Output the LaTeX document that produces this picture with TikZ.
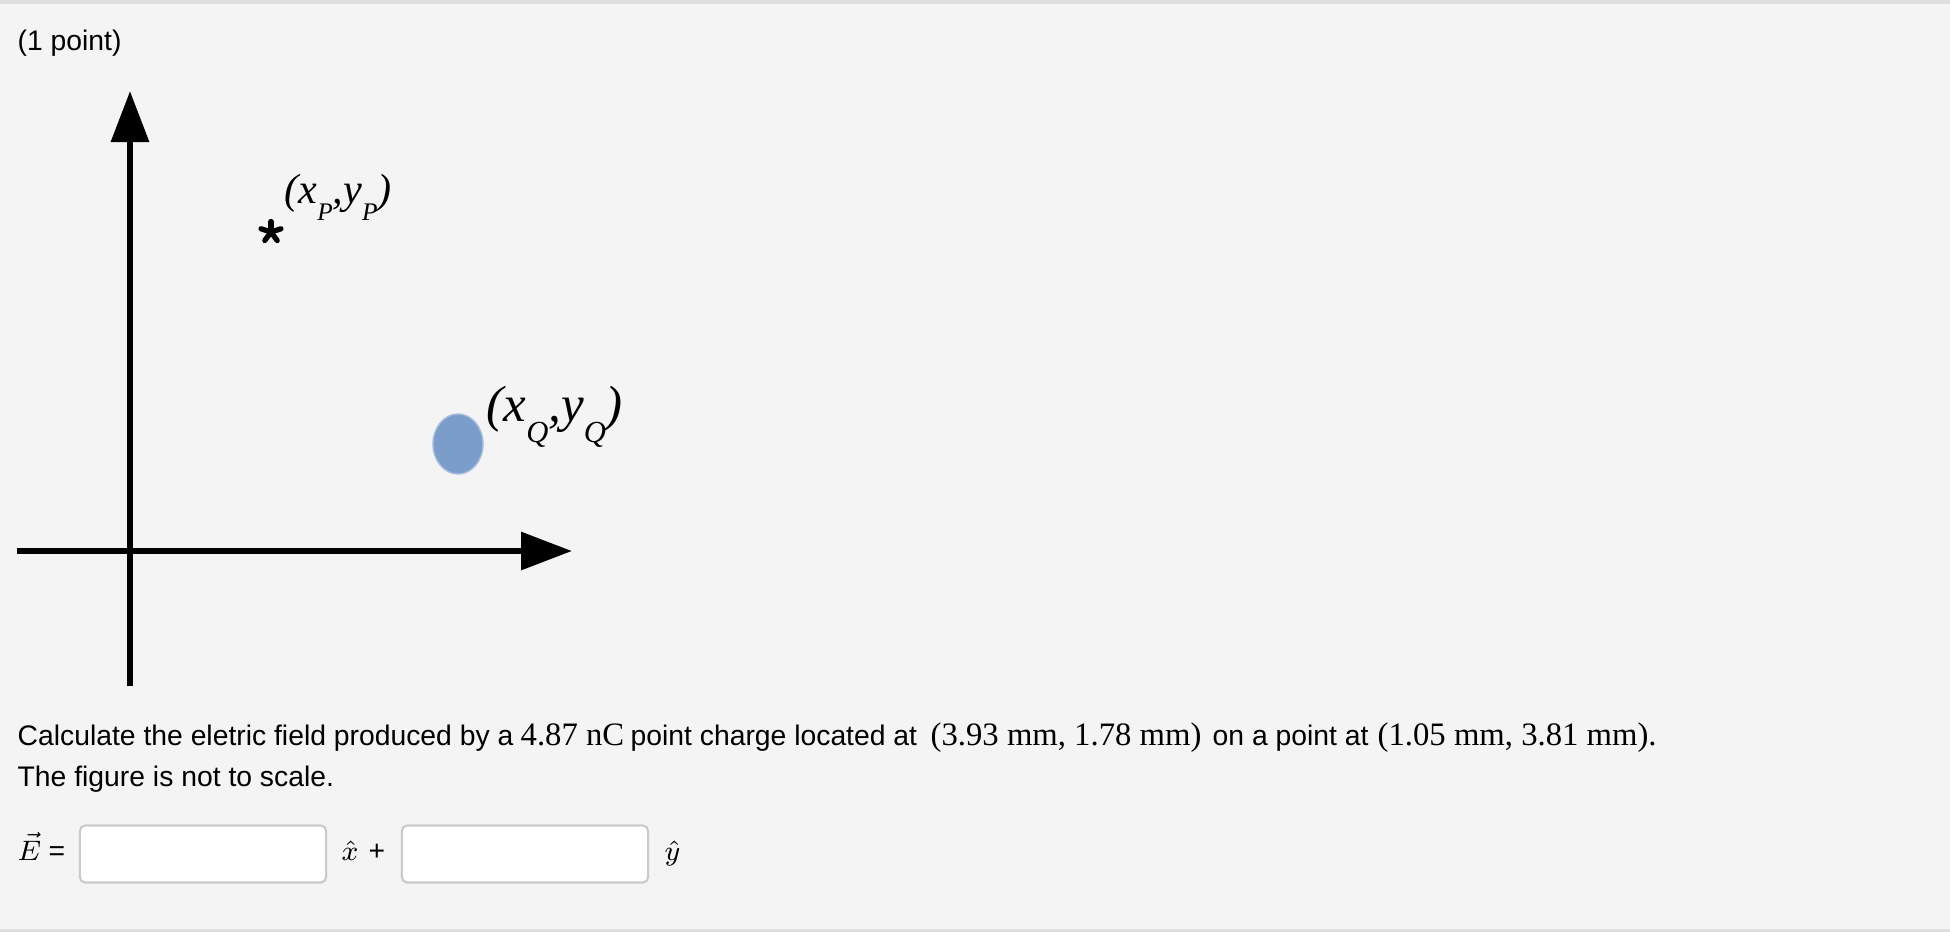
\documentclass[tikz,border=0pt]{standalone}
\usepackage{graphicx}
\usepackage{fontspec}
\setmainfont{Liberation Sans}
\newfontfamily\timesfont{Liberation Serif}
\usepackage{tikz}
\usetikzlibrary{arrows.meta,positioning}

\definecolor{pagebg}{HTML}{F4F4F4}
\definecolor{rulegray}{HTML}{DFDFDF}
\definecolor{boxgray}{HTML}{C9C9C9}
\definecolor{chargeblue}{HTML}{7B9DCA}
\definecolor{chargeedge}{HTML}{A3BBDD}
\newcommand{\lowsub}[1]{\raisebox{-0.42em}{\scalebox{0.6}{#1}}}

\begin{document}
\begin{tikzpicture}[x=0.01cm,y=-0.01cm,
    axis/.style={line width=1.85pt,-{Triangle[length=14.5pt,width=10.5pt]}},
    txt/.style={anchor=base west,inner sep=0pt,font=\fontsize{8.05}{9.7}\selectfont},
    num/.style={anchor=base west,inner sep=0pt,font=\fontsize{9.3}{10}\selectfont\timesfont},
    coordlabel/.style={anchor=base west,inner sep=0pt,font=\timesfont\itshape},
    answer/.style={draw=boxgray,line width=0.6pt,fill=white,rounded corners=1.5pt,
      minimum width=2.46cm,minimum height=0.57cm,inner sep=0pt}]
  \fill[pagebg] (0,0) rectangle (1950,932);
  \useasboundingbox (0,0) rectangle (1950,932);
  \fill[rulegray] (0,0) rectangle (1950,4);
  \fill[rulegray] (0,929) rectangle (1950,932);

  \node[txt] (points) at (17,50) {(1 point)};

  \coordinate (ybot) at (130,686);
  \coordinate (ytop) at (130,91);
  \coordinate (xleft) at (17,551);
  \coordinate (xright) at (572,551);
  \draw[axis] (ybot) -- (ytop);
  \draw[axis] (xleft) -- (xright);

  \coordinate (P) at (271,232);
  \foreach \a in {270,342,54,126,198}
    \draw[line width=1.5pt,line cap=round] (P) -- ++(\a:10.5);
  \node[coordlabel,font=\fontsize{12}{12}\selectfont\timesfont\itshape] (plabel) at (284,203) {(x\lowsub{P},y\lowsub{P})};

  \coordinate (Q) at (458,444);
  \filldraw[fill=chargeblue,draw=chargeedge,line width=0.4pt] (Q) ellipse [x radius=25,y radius=30];
  \node[coordlabel,font=\fontsize{14.5}{14.5}\selectfont\timesfont\itshape] (qlabel) at (486,421) {(x\lowsub{Q},y\lowsub{Q})};

  \node[txt] (t1) at (17,745) {Calculate the eletric field produced by a};
  \node[num] (m1) at (520,745) {4.87 nC};
  \node[txt] (t2) at (630,745) {point charge located at};
  \node[num] (m2) at (930,745) {(3.93 mm, 1.78 mm)};
  \node[txt] (t3) at (1212,745) {on a point at};
  \node[num] (m3) at (1377,745) {(1.05 mm, 3.81 mm).};
  \node[txt] (t4) at (17,786) {The figure is not to scale.};

  \node[txt,font=\fontsize{8.5}{9}\selectfont] (evec) at (17,860) {$\vec{E}$};
  \node[txt] (eq) at (48,860) {=};
  \node[answer] (xbox) at (203,854) {};
  \node[txt,font=\fontsize{8.5}{9}\selectfont] (xhat) at (341,860) {$\hat{x}$};
  \node[txt] (plus) at (368,860) {+};
  \node[answer] (ybox) at (525,854) {};
  \node[txt,font=\fontsize{8.5}{9}\selectfont] (yhat) at (664,860) {$\hat{y}$};
\end{tikzpicture}
\end{document}
